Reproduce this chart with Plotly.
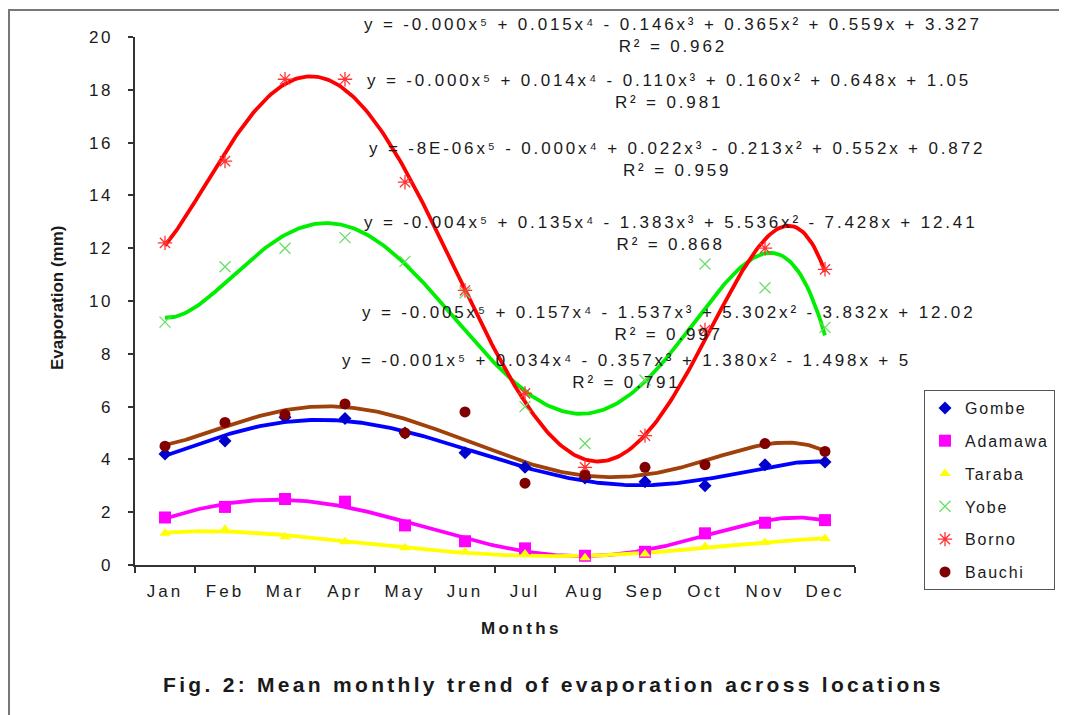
import numpy as np
import plotly.graph_objects as go

# ---------------- data ----------------
months = ["Jan", "Feb", "Mar", "Apr", "May", "Jun", "Jul", "Aug", "Sep", "Oct", "Nov", "Dec"]
month_num = [1, 2, 3, 4, 5, 6, 7, 8, 9, 10, 11, 12]
y_ticks = [0, 2, 4, 6, 8, 10, 12, 14, 16, 18, 20]

gombe = [4.2, 4.7, 5.6, 5.55, 5.0, 4.25, 3.7, 3.3, 3.15, 3.0, 3.8, 3.9]
adamawa = [1.8, 2.2, 2.5, 2.4, 1.5, 0.9, 0.63, 0.35, 0.5, 1.2, 1.6, 1.7]
taraba = [1.2, 1.35, 1.07, 0.88, 0.65, 0.5, 0.42, 0.27, 0.42, 0.7, 0.85, 1.0]
yobe = [9.2, 11.3, 12.0, 12.4, 11.5, 10.3, 6.0, 4.6, 7.0, 11.4, 10.5, 9.0]
borno = [12.2, 15.3, 18.4, 18.4, 14.5, 10.4, 6.5, 3.7, 4.9, 8.9, 12.0, 11.2]
bauchi = [4.5, 5.4, 5.7, 6.1, 5.0, 5.8, 3.1, 3.4, 3.7, 3.8, 4.6, 4.3]

series_names = ["Gombe", "Adamawa", "Taraba", "Yobe", "Borno", "Bauchi"]
series_values = [gombe, adamawa, taraba, yobe, borno, bauchi]

equations = [
    "y = -0.000x⁵ + 0.015x⁴ - 0.146x³ + 0.365x² + 0.559x + 3.327",
    "y = -0.000x⁵ + 0.014x⁴ - 0.110x³ + 0.160x² + 0.648x + 1.05",
    "y = -8E-06x⁵ - 0.000x⁴ + 0.022x³ - 0.213x² + 0.552x + 0.872",
    "y = -0.004x⁵ + 0.135x⁴ - 1.383x³ + 5.536x² - 7.428x + 12.41",
    "y = -0.005x⁵ + 0.157x⁴ - 1.537x³ + 5.302x² - 3.832x + 12.02",
    "y = -0.001x⁵ + 0.034x⁴ - 0.357x³ + 1.380x² - 1.498x + 5",
]
r_squared = ["0.962", "0.981", "0.959", "0.868", "0.997", "0.791"]

# ---------------- styles ----------------
FONT = "Liberation Sans, Arial, sans-serif"
TXT = "#1a1a1a"

line_colors = ["#0000FF", "#FF00FF", "#FFFF00", "#00EE00", "#FF0000", "#A0400A"]
marker_styles = [
    dict(symbol="diamond", size=10, color="#0000CC"),
    dict(symbol="square", size=12, color="#FF00FF"),
    dict(symbol="triangle-up", size=10, color="#FFFF00"),
    dict(symbol="x-thin-open", size=11, color="#66DD66", line=dict(color="#66DD66", width=1.3)),
    dict(symbol="asterisk-open", size=12, color="#FF3333", line=dict(color="#FF3333", width=1.3)),
    dict(symbol="circle", size=11, color="#800000"),
]

# The page body has an 8px margin; positions below are page pixels.
OFF = 8
PAGE_W, PAGE_H = 1067, 715
PL, PR, PT, PB = 135, 855, 37, 565
W, H = 1110, PAGE_H - OFF   # figure wider than the window so the legend never squeezes the plot


def px(x):
    return (x - PL) / (PR - PL)


def py(y):
    return (PB - y) / (PB - PT)


def sp(text, s):
    return f'<span style="letter-spacing:{s}px">{text}</span>'


fig = go.Figure()

xs = np.linspace(1, 12, 300)
for name, vals, lc in zip(series_names, series_values, line_colors):
    coef = np.polyfit(month_num, vals, 5)
    fig.add_trace(go.Scatter(
        x=xs, y=np.polyval(coef, xs), mode="lines",
        line=dict(color=lc, width=3.8), showlegend=False, hoverinfo="skip"))

for name, vals, ms in zip(series_names, series_values, marker_styles):
    fig.add_trace(go.Scatter(
        x=month_num, y=vals, mode="markers", name=sp(name, 1.8),
        marker=ms, legendgroup=name))

# equation annotations (centre x, centre y in page pixels)
eq_pos = [(673, 36), (669, 91), (677, 159), (670, 234), (668, 323), (626, 371)]
annotations = []
for eq, r2, (cx, cy) in zip(equations, r_squared, eq_pos):
    annotations.append(dict(
        x=px(cx), y=py(cy), xref="paper", yref="paper",
        text=sp(eq, 2.85) + "<br>" + sp("R² = " + r2, 2.85),
        showarrow=False, xanchor="center", yanchor="middle",
        font=dict(family=FONT, size=17, color=TXT), align="center"))

annotations.append(dict(
    x=px(521), y=py(628), xref="paper", yref="paper",
    xanchor="center", yanchor="middle",
    text="<b>" + sp("Months", 3.4) + "</b>", showarrow=False,
    font=dict(family=FONT, size=17, color=TXT)))
annotations.append(dict(
    x=px(57), y=py(298), xref="paper", yref="paper",
    xanchor="center", yanchor="middle",
    text="<b>Evaporation (mm)</b>", showarrow=False, textangle=-90,
    font=dict(family=FONT, size=17, color=TXT)))
annotations.append(dict(
    x=px(553), y=py(684), xref="paper", yref="paper",
    xanchor="center", yanchor="middle",
    text="<b>" + sp("Fig. 2: Mean monthly trend of evaporation across locations", 3.3) + "</b>",
    showarrow=False, font=dict(family=FONT, size=21, color=TXT)))

shapes = [
    dict(type="line", xref="paper", yref="paper", x0=px(9), x1=px(9), y0=py(10), y1=py(716),
         line=dict(color="#777777", width=2)),
    dict(type="line", xref="paper", yref="paper", x0=px(8), x1=px(1100), y0=py(10), y1=py(10),
         line=dict(color="#777777", width=2)),
]

fig.update_layout(
    width=W, height=H,
    margin=dict(l=PL - OFF, r=W - (PR - OFF), t=PT - OFF, b=PAGE_H - PB, pad=0),
    paper_bgcolor="white", plot_bgcolor="white",
    font=dict(family=FONT, color=TXT),
    annotations=annotations, shapes=shapes,
    legend=dict(
        x=px(924), y=py(390), xanchor="left", yanchor="top",
        bordercolor="#555555", borderwidth=1, bgcolor="white",
        font=dict(family=FONT, size=16, color=TXT),
        tracegroupgap=9, traceorder="grouped"),
    xaxis=dict(
        range=[0.5, 12.5], tickmode="array", tickvals=month_num,
        ticktext=[sp(m, 3) for m in months], ticks="",
        showgrid=False, zeroline=False, showline=True, linecolor="#333333", linewidth=1.5,
        tickfont=dict(family=FONT, size=17, color=TXT), ticklabelstandoff=10,
        minor=dict(ticks="outside", ticklen=6, tick0=0.5, dtick=1, tickcolor="#333333",
                   tickwidth=1.5, showgrid=False)),
    yaxis=dict(
        range=[0, 20], tickmode="array", tickvals=y_ticks,
        ticktext=[sp(str(v), 2.5) for v in y_ticks],
        ticks="outside", ticklen=5, tickcolor="#333333", tickwidth=1.5,
        showgrid=False, zeroline=False, showline=True, linecolor="#333333", linewidth=1.5,
        tickfont=dict(family=FONT, size=17, color=TXT), ticklabelstandoff=12),
    showlegend=True,
)

fig.write_html("out.html")
